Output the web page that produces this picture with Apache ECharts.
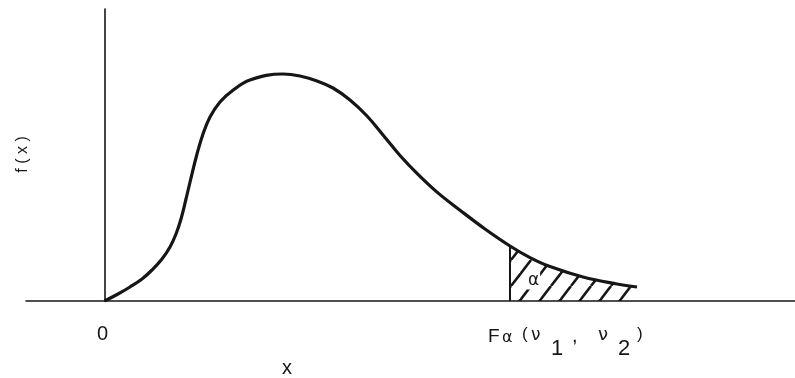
<!DOCTYPE html>
<html>
<head>
<meta charset="utf-8">
<script src="https://cdn.jsdelivr.net/npm/echarts@6/dist/echarts.min.js"></script>
<style>
  html, body { margin: 0; padding: 0; background: #ffffff; }
  #chart { width: 795px; height: 378px; }
</style>
</head>
<body>
<div id="chart"></div>
<script>
// Density curve f(x) of an F distribution, sampled along x
const xValues = [0, 0.135, 0.255, 0.375, 0.475, 0.575, 0.655, 0.715, 0.765, 0.815, 0.865, 0.925, 0.985, 1.055,
                 1.155, 1.275, 1.455, 1.785, 1.955, 2.125, 2.285, 2.455, 2.625, 2.785, 2.955, 3.135, 3.325,
                 3.555, 3.805, 4.055, 4.255, 4.455, 4.785, 5.125, 5.325];
const fValues = [0, 0.0175, 0.035, 0.055, 0.0775, 0.105, 0.135, 0.1675, 0.205, 0.255, 0.3075, 0.3675, 0.4175, 0.46,
                 0.4975, 0.525, 0.5525, 0.5675, 0.5625, 0.55, 0.5325, 0.5025, 0.4625, 0.415, 0.36375, 0.3165, 0.27225,
                 0.227, 0.18, 0.1375, 0.1085, 0.086, 0.06, 0.0425, 0.035];
// Critical value F_alpha(nu1, nu2): upper tail area alpha lies to its right
const criticalX = 4.055;

const INK = '#161616';
const curve = xValues.map((x, i) => [x, fValues[i]]);
const tailStart = xValues.indexOf(criticalX);
const tail = curve.slice(tailStart);
const criticalF = fValues[tailStart];

// Diagonal hatch tile for the shaded tail
function hatchTile() {
  const w = 20, h = 26, s = 11;
  const c = document.createElement('canvas');
  c.width = w; c.height = h;
  const ctx = c.getContext('2d');
  ctx.strokeStyle = INK;
  ctx.lineWidth = 2.6;
  for (let k = -2; k <= 2; k++) {
    ctx.beginPath();
    ctx.moveTo(s + w + k * w, 0);
    ctx.lineTo(s + k * w, h);
    ctx.stroke();
  }
  return c;
}

const chart = echarts.init(document.getElementById('chart'), null, { renderer: 'canvas' });

chart.setOption({
  animation: false,
  backgroundColor: '#ffffff',
  grid: { left: 26, right: 0, top: 9, bottom: 77 },
  xAxis: {
    type: 'value', min: -0.785, max: 6.905,
    axisLine: { show: true, onZero: true, lineStyle: { color: INK, width: 1.6 } },
    axisTick: { show: false }, axisLabel: { show: false }, splitLine: { show: false }
  },
  yAxis: {
    type: 'value', min: 0, max: 0.73,
    axisLine: { show: true, onZero: true, lineStyle: { color: INK, width: 1.6 } },
    axisTick: { show: false }, axisLabel: { show: false }, splitLine: { show: false }
  },
  series: [
    {
      name: 'tail', type: 'line', data: tail, smooth: 0.4, symbol: 'none',
      lineStyle: { width: 0 },
      areaStyle: { color: { image: hatchTile(), repeat: 'repeat' }, opacity: 1 },
      z: 1
    },
    {
      name: 'edge', type: 'line', data: [[criticalX, 0], [criticalX, criticalF]], symbol: 'none',
      lineStyle: { color: INK, width: 2 }, z: 2
    },
    {
      name: 'f(x)', type: 'line', data: curve, smooth: 0.4, symbol: 'none',
      lineStyle: { color: INK, width: 3.2 }, z: 3
    }
  ]
});

// Text labels, anchored to the axes' pixel positions
const origin = chart.convertToPixel({ gridIndex: 0 }, [0, 0]);
const crit = chart.convertToPixel({ gridIndex: 0 }, [criticalX, 0]);
const SANS = '"Liberation Sans", Arial, sans-serif';
const GREEK = '"DejaVu Sans", sans-serif';

function glyph(text, left, baseline, size, family) {
  return {
    type: 'text', silent: true,
    style: {
      text: text, x: left, y: baseline - 0.35 * size,
      fontSize: size, fontFamily: family, fill: INK,
      align: 'left', verticalAlign: 'middle'
    }
  };
}

const cx = crit[0], cy = crit[1];
chart.setOption({
  graphic: [
    {
      type: 'text', silent: true,
      style: { text: '0', x: origin[0] - 2, y: origin[1] + 33, fontSize: 20, fontFamily: SANS, fill: INK,
               align: 'center', verticalAlign: 'middle' }
    },
    {
      type: 'text', silent: true,
      style: { text: 'x', x: 287, y: 368, fontSize: 20, fontFamily: SANS, fill: INK,
               align: 'center', verticalAlign: 'middle' }
    },
    {
      type: 'text', silent: true, x: 23, y: 154.5, rotation: Math.PI / 2,
      style: { text: 'f ( x )', x: 0, y: 0, fontSize: 16, fontFamily: SANS, fill: INK,
               align: 'center', verticalAlign: 'middle' }
    },
    {
      type: 'text', silent: true, z: 10,
      style: { text: 'α', x: cx + 23.5, y: cy - 20, fontSize: 17, fontFamily: GREEK, fill: INK,
               align: 'center', verticalAlign: 'middle', backgroundColor: '#ffffff', padding: [0, 1] }
    },
    glyph('F', cx - 22, cy + 42, 19, SANS),
    glyph('α', cx - 8, cy + 42, 16, GREEK),
    glyph('(', cx + 12, cy + 39, 17, SANS),
    glyph('ν', cx + 21, cy + 41, 17, GREEK),
    glyph('1', cx + 41, cy + 56, 22, SANS),
    glyph(',', cx + 62, cy + 42, 20, SANS),
    glyph('ν', cx + 88, cy + 41, 18, GREEK),
    glyph('2', cx + 108, cy + 56, 22, SANS),
    glyph(')', cx + 127, cy + 39, 17, SANS)
  ]
});
</script>
</body>
</html>
